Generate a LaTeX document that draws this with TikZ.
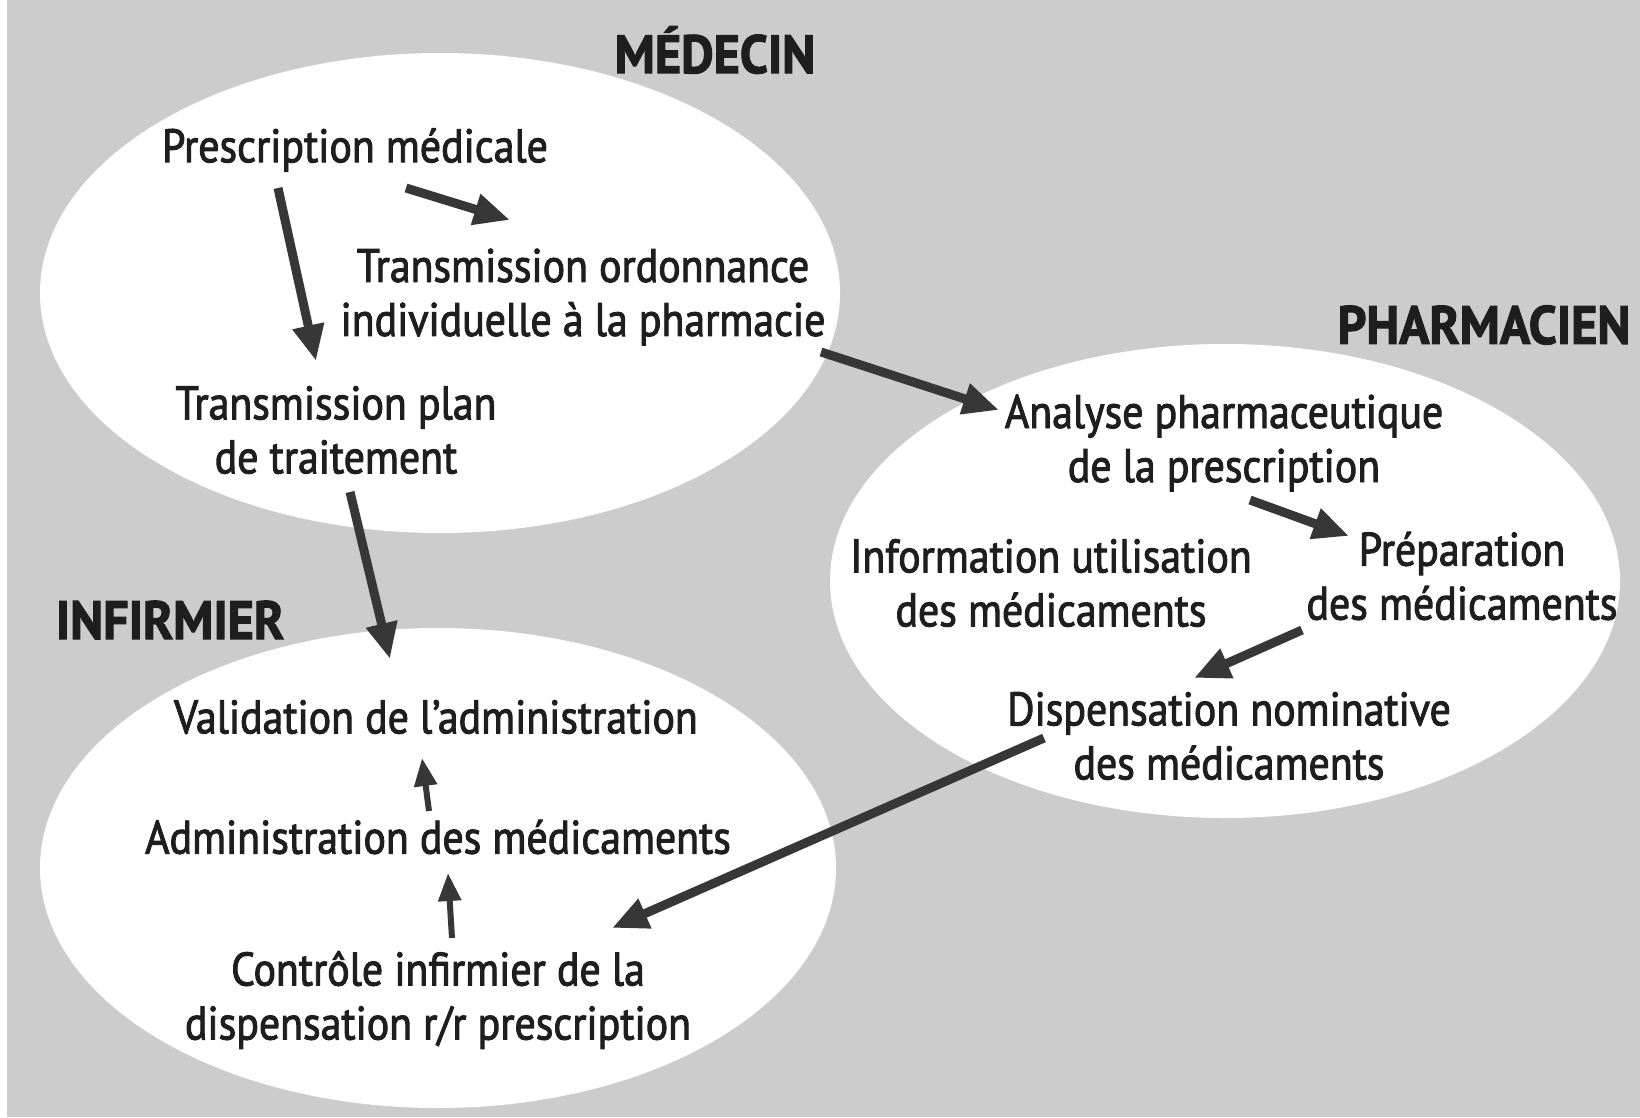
\documentclass[tikz,border=0pt]{standalone}
\usepackage{fontspec}
\setmainfont{PT Sans}[FakeStretch=0.89]
\newfontfamily\bodyfont{PT Sans}[FakeStretch=0.89,FakeBold=2]
\newfontfamily\titlefont{PT Sans Bold}[FakeStretch=0.93,FakeBold=2]
\usetikzlibrary{arrows.meta}
\definecolor{bggray}{RGB}{204,204,204}
\definecolor{arrowgray}{RGB}{55,55,55}
\definecolor{txt}{RGB}{30,30,30}
\tikzset{
  lbl/.style={inner sep=0pt, align=center, text=txt, font=\bodyfont\fontsize{47}{54}\selectfont},
  ttl/.style={inner sep=0pt, text=txt, font=\titlefont\fontsize{54}{60}\selectfont},
  zone/.style={fill=white, draw=none},
  bigarrow/.style={draw=arrowgray, line width=9pt, -{Triangle[length=36pt,width=30pt]}},
  smallarrow/.style={draw=arrowgray, line width=6pt, -{Triangle[length=28pt,width=22pt]}}
}
\begin{document}
\begin{tikzpicture}[x=1pt,y=-1pt]
\useasboundingbox (0,0) rectangle (1640,1117);
\fill[white] (0,0) rectangle (1640,1117);
\fill[bggray] (7,0) rectangle (1640,1117);
% zones
\fill[zone] (440,293) ellipse [x radius=400, y radius=240];
\fill[zone] (1225,581) ellipse [x radius=395, y radius=237];
\fill[zone] (438,868) ellipse [x radius=398, y radius=240];
% titles
\node[ttl] (tmed) at (715,50) {MÉDECIN};
\node[ttl] (tpha) at (1484,325) {PHARMACIEN};
\node[ttl] (tinf) at (170,620) {INFIRMIER};
% labels
\node[lbl] (pm) at (355,150) {Prescription médicale};
\node[lbl] (tro) at (583,297) {Transmission ordonnance\\individuelle à la pharmacie};
\node[lbl] (tpt) at (336,430) {Transmission plan\\de traitement};
\node[lbl] (an) at (1224,443) {Analyse pharmaceutique\\de la prescription};
\node[lbl] (inf) at (1051,583) {Information utilisation\\des médicaments};
\node[lbl] (prep) at (1462,576) {Préparation\\des médicaments};
\node[lbl] (disp) at (1229,736) {Dispensation nominative\\des médicaments};
\node[lbl] (val) at (436,717) {Validation de l’administration};
\node[lbl] (adm) at (438,837) {Administration des médicaments};
\node[lbl] (ctrl) at (438,1000) {Contrôle infirmier de la\\dispensation r/r prescription};
% arrows
\draw[bigarrow] ([shift={(-77,38)}]pm.center) -- ([shift={(-20,-69)}]tpt.center);
\draw[bigarrow] ([shift={(51,38)}]pm.center) -- ([shift={(-73,-77)}]tro.center);
\draw[bigarrow] ([shift={(238,55)}]tro.center) -- ([shift={(-225,-33)}]an.center);
\draw[bigarrow] ([shift={(14,62)}]tpt.center) -- ([shift={(-46,-58)}]val.center);
\draw[bigarrow] ([shift={(26,57)}]an.center) -- ([shift={(-113,-40)}]prep.center);
\draw[bigarrow] ([shift={(-160,54)}]prep.center) -- ([shift={(-35,-58)}]disp.center);
\draw[bigarrow] ([shift={(-185,2)}]disp.center) -- ([shift={(174,-72)}]ctrl.center);
\draw[smallarrow] ([shift={(-9,-26)}]adm.center) -- ([shift={(-14,41)}]val.center);
\draw[smallarrow] ([shift={(14,-62)}]ctrl.center) -- ([shift={(10,36)}]adm.center);
\end{tikzpicture}
\end{document}
